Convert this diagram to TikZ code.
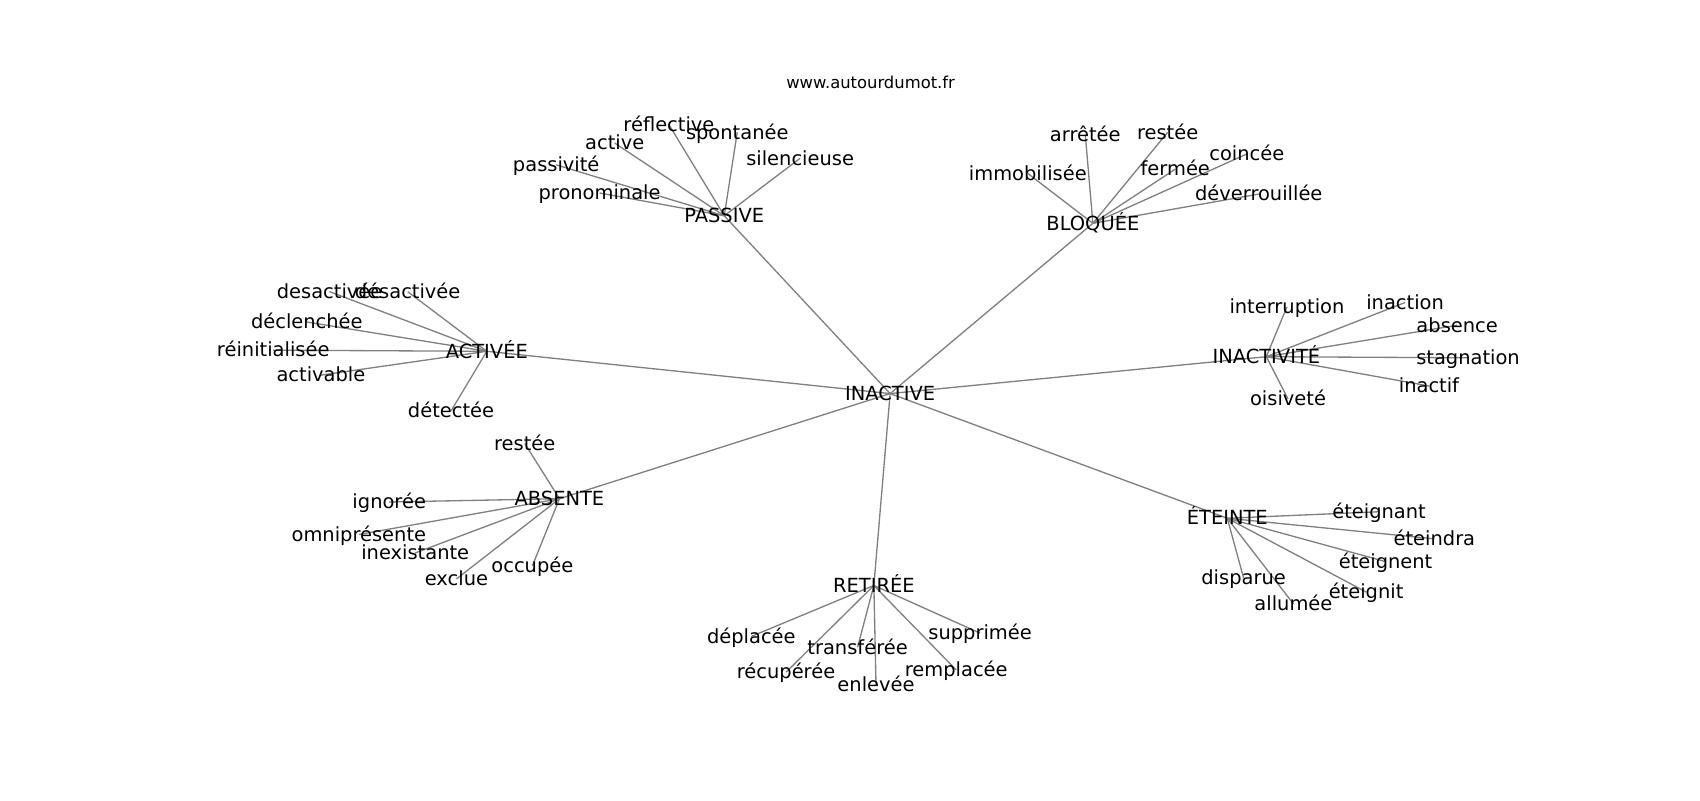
\documentclass[tikz,border=0pt]{standalone}
\usepackage{fontspec}
\setmainfont{DejaVu Sans}
\pgfdeclarelayer{edges}
\pgfsetlayers{edges,main}
\tikzset{
  lab/.style={inner sep=0pt, outer sep=0pt, text height=10.6pt, text depth=0.9pt,
              font=\fontsize{14}{16}\selectfont, text=black},
  ttl/.style={inner sep=0pt, outer sep=0pt, font=\fontsize{11.8}{14}\selectfont, text=black},
  edge/.style={draw=gray, line width=0.95pt}
}
\begin{document}
\begin{tikzpicture}[x=0.78061pt, y=-0.78061pt]
\useasboundingbox (0,0) rectangle (1568,738);

\node[ttl] (title) at (803,76) {www.autourdumot.fr};

% hubs
\node[lab] (inactive) at (821,363) {INACTIVE};
\node[lab] (passive) at (668,199) {PASSIVE};
\node[lab] (bloquee) at (1008,206) {BLOQUÉE};
\node[lab] (activee) at (449,324) {ACTIVÉE};
\node[lab] (absente) at (516,460) {ABSENTE};
\node[lab] (retiree) at (806,540) {RETIRÉE};
\node[lab] (eteinte) at (1132,478) {ÉTEINTE};
\node[lab] (inactivite) at (1168,329) {INACTIVITÉ};

% PASSIVE leaves
\node[lab] (p1) at (617,115) {réflective};
\node[lab] (p2) at (567,132) {active};
\node[lab] (p3) at (680,122) {spontanée};
\node[lab] (p4) at (738,146) {silencieuse};
\node[lab] (p5) at (513,152) {passivité};
\node[lab] (p6) at (553,178) {pronominale};

% BLOQUEE leaves
\node[lab] (b1) at (1001,124) {arrêtée};
\node[lab] (b2) at (1077,122) {restée};
\node[lab] (b3) at (1150,142) {coincée};
\node[lab] (b4) at (948,160) {immobilisée};
\node[lab] (b5) at (1084,156) {fermée};
\node[lab] (b6) at (1161,179) {déverrouillée};

% ACTIVEE leaves
\node[lab] (a1) at (304,269) {desactivée};
\node[lab] (a2) at (376,269) {désactivée};
\node[lab] (a3) at (283,297) {déclenchée};
\node[lab] (a4) at (252,323) {réinitialisée};
\node[lab] (a5) at (296,346) {activable};
\node[lab] (a6) at (416,379) {détectée};

% ABSENTE leaves
\node[lab] (s1) at (484,409) {restée};
\node[lab] (s2) at (359,463) {ignorée};
\node[lab] (s3) at (331,493) {omniprésente};
\node[lab] (s4) at (383,510) {inexistante};
\node[lab] (s5) at (421,534) {exclue};
\node[lab] (s6) at (491,522) {occupée};

% RETIREE leaves
\node[lab] (r1) at (693,587) {déplacée};
\node[lab] (r2) at (791,597) {transférée};
\node[lab] (r3) at (725,620) {récupérée};
\node[lab] (r4) at (808,632) {enlevée};
\node[lab] (r5) at (882,618) {remplacée};
\node[lab] (r6) at (904,584) {supprimée};

% ETEINTE leaves
\node[lab] (e1) at (1272,472) {éteignant};
\node[lab] (e2) at (1323,497) {éteindra};
\node[lab] (e3) at (1278,518) {éteignent};
\node[lab] (e4) at (1260,546) {éteignit};
\node[lab] (e5) at (1147,533) {disparue};
\node[lab] (e6) at (1193,557) {allumée};

% INACTIVITE leaves
\node[lab] (i1) at (1187,283) {interruption};
\node[lab] (i2) at (1296,279) {inaction};
\node[lab] (i3) at (1344,300) {absence};
\node[lab] (i4) at (1354,330) {stagnation};
\node[lab] (i5) at (1318,356) {inactif};
\node[lab] (i6) at (1188,368) {oisiveté};

\begin{pgfonlayer}{edges}
\foreach \h in {passive,bloquee,activee,absente,retiree,eteinte,inactivite}
  \draw[edge] (inactive.center) -- (\h.center);
\foreach \l in {p1,p2,p3,p4,p5,p6}
  \draw[edge] (passive.center) -- (\l.center);
\foreach \l in {b1,b2,b3,b4,b5,b6}
  \draw[edge] (bloquee.center) -- (\l.center);
\foreach \l in {a1,a2,a3,a4,a5,a6}
  \draw[edge] (activee.center) -- (\l.center);
\foreach \l in {s1,s2,s3,s4,s5,s6}
  \draw[edge] (absente.center) -- (\l.center);
\foreach \l in {r1,r2,r3,r4,r5,r6}
  \draw[edge] (retiree.center) -- (\l.center);
\foreach \l in {e1,e2,e3,e4,e5,e6}
  \draw[edge] (eteinte.center) -- (\l.center);
\foreach \l in {i1,i2,i3,i4,i5,i6}
  \draw[edge] (inactivite.center) -- (\l.center);
\end{pgfonlayer}
\end{tikzpicture}
\end{document}
